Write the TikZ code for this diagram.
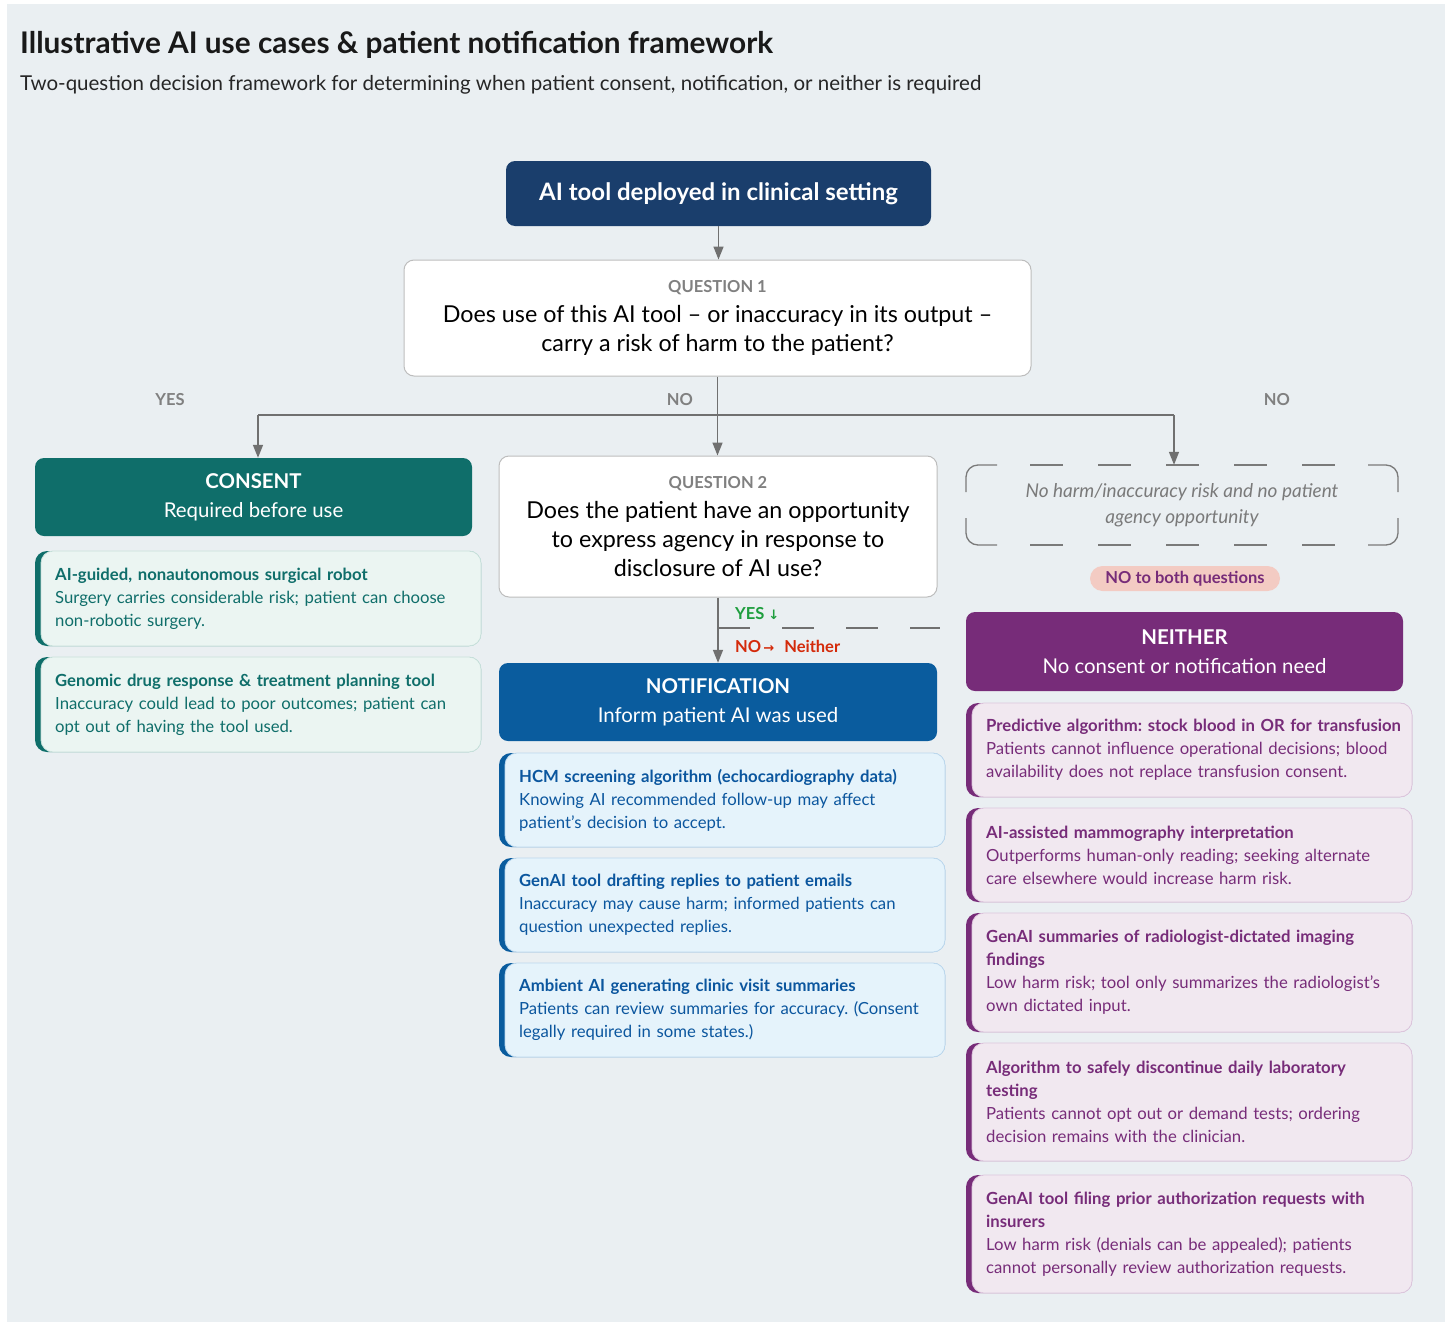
\documentclass[tikz,border=0pt]{standalone}
\usepackage{fontspec}
\setmainfont{Lato}
\newfontfamily\symfont{DejaVu Sans}
\usetikzlibrary{arrows.meta}
\frenchspacing
\definecolor{bgpanel}{HTML}{EAEFF2}
\definecolor{navy}{HTML}{1A3E6C}
\definecolor{conngrey}{HTML}{707070}
\definecolor{qborder}{HTML}{BDBDBD}
\definecolor{qlabel}{HTML}{808080}
\definecolor{tealA}{HTML}{0F6E6A}
\definecolor{tealF}{HTML}{EBF5F2}
\definecolor{tealB}{HTML}{C8E1DB}
\definecolor{tealT}{HTML}{0F6E6A}
\definecolor{blueA}{HTML}{0A5C9E}
\definecolor{blueF}{HTML}{E5F3FB}
\definecolor{blueB}{HTML}{BCD8EE}
\definecolor{blueT}{HTML}{0B569E}
\definecolor{purpA}{HTML}{772C79}
\definecolor{purpF}{HTML}{F1E8F0}
\definecolor{purpB}{HTML}{DDC6DD}
\definecolor{purpT}{HTML}{772C79}
\definecolor{pillfill}{HTML}{F3CBC3}
\definecolor{yesgreen}{HTML}{1E9E3E}
\definecolor{nored}{HTML}{D42A0A}
\definecolor{dashgrey}{HTML}{7A7A7A}
\tikzset{
  conn/.style={draw=conngrey, line width=1.5pt},
  arrowconn/.style={conn, -{Triangle[width=10pt,length=13pt]}},
  mainbox/.style={rounded corners=9pt, text=white, align=center,
    font=\fontsize{20.4}{29}\selectfont, inner sep=0pt},
  qbox/.style={rounded corners=10pt, fill=white, draw=qborder, line width=1pt,
    align=center, font=\fontsize{23.3}{29}\selectfont, inner sep=0pt},
  branchlabel/.style={text=qlabel, font=\fontsize{16.5}{19}\selectfont\bfseries, inner sep=0pt},
  cardtext/.style={anchor=west, align=left, inner sep=0pt,
    font=\fontsize{16.7}{23}\selectfont},
  dashedge/.style={draw=dashgrey, line width=1.3pt},
}
% name, x, y, w, h, scheme, content
\newcommand{\mkcard}[7]{%
  \fill[#6A, rounded corners=12pt] (#2,#3) rectangle ++(#4,#5);
  \filldraw[fill=#6F, draw=#6B, line width=0.8pt, rounded corners=12pt] (#2+6,#3) rectangle ++(#4-6,#5);
  \node[cardtext, text=#6T, text width=#4pt-24pt] (#1) at (#2+20,#3+#5/2) {#7};
}
\begin{document}
\begin{tikzpicture}[x=1pt,y=-1pt]
\useasboundingbox (0,0) rectangle (1449,1325);
\fill[white] (0,0) rectangle (1449,1325);
\fill[bgpanel] (7,4) rectangle (1445,1322);

% title
\node[anchor=west, inner sep=0pt, font=\fontsize{29.8}{34}\selectfont\bfseries, text=black!90] (title) at (20,45) {Illustrative AI use cases \& patient notification framework};
\node[anchor=west, inner sep=0pt, font=\fontsize{20.5}{24}\selectfont, text=black!85] (subtitle) at (20,85) {Two-question decision framework for determining when patient consent, notification, or neither is required};

% top node
\node[mainbox, fill=navy, minimum width=425pt, minimum height=65pt, font=\fontsize{24}{29}\selectfont\bfseries] (top) at (718.5,193.5) {AI tool deployed in clinical setting};

% Question 1
\node[qbox, minimum width=627pt, minimum height=116pt] (q1) at (717.5,318)
  {{\fontsize{16.5}{20}\selectfont\bfseries\color{qlabel}QUESTION 1}\\[1pt]
   Does use of this AI tool -- or inaccuracy in its output --\\
   carry a risk of harm to the patient?};

% Consent header
\node[mainbox, fill=tealA, minimum width=437pt, minimum height=78pt] (consent) at (253.5,497)
  {{\bfseries CONSENT}\\Required before use};

% Question 2
\node[qbox, minimum width=438pt, minimum height=141pt] (q2) at (718,526.5)
  {{\fontsize{16.5}{20}\selectfont\bfseries\color{qlabel}QUESTION 2}\\[1pt]
   Does the patient have an opportunity\\
   to express agency in response to\\
   disclosure of AI use?};

% Notification header
\node[mainbox, fill=blueA, minimum width=438pt, minimum height=78pt] (notif) at (718,702)
  {{\bfseries NOTIFICATION}\\Inform patient AI was used};

% dashed box (text node; outline drawn below)
\node[minimum width=432pt, minimum height=80pt, align=center, inner sep=0pt,
      text=dashgrey, font=\fontsize{19}{26}\selectfont\itshape] (nobox) at (1182,505)
  {No harm/inaccuracy risk and no patient\\agency opportunity};
% corners
\draw[dashedge, rounded corners=12pt] (966,492) -- (966,465) -- (997,465);
\draw[dashedge, rounded corners=12pt] (1368,465) -- (1398,465) -- (1398,492);
\draw[dashedge, rounded corners=12pt] (966,518) -- (966,545) -- (997,545);
\draw[dashedge, rounded corners=12pt] (1368,545) -- (1398,545) -- (1398,518);
% straight dashes
\draw[dashedge, dash pattern=on 33pt off 35pt] (1030,465) -- (1336,465);
\draw[dashedge, dash pattern=on 33pt off 35pt] (1030,545) -- (1336,545);

% pill
\node[rounded corners=12.5pt, fill=pillfill, minimum width=190pt, minimum height=25pt, inner sep=0pt,
      text=purpA, font=\fontsize{16.5}{19}\selectfont\bfseries] (pill) at (1185,578.5) {NO to both questions};

% Neither header
\node[mainbox, fill=purpA, minimum width=437pt, minimum height=79pt] (neither) at (1184.5,651.5)
  {{\bfseries NEITHER}\\No consent or notification need};

% connectors
\draw[arrowconn] (top.south) -- (top.south |- q1.north);
\draw[arrowconn] (q1.south) -- (q1.south |- q2.north);
\coordinate (split) at (716,415);
\draw[conn] ([xshift=4.5pt]consent.north |- split) -- ([xshift=-8pt]nobox.north |- split);
\draw[arrowconn] ([xshift=4.5pt]consent.north |- split) -- ([xshift=4.5pt]consent.north);
\draw[arrowconn] ([xshift=-8pt]nobox.north |- split) -- ([xshift=-8pt]nobox.north);
\draw[arrowconn] (q2.south) -- (notif.north);
\coordinate (dashend) at (940,628);
\draw[conn, dash pattern=on 32pt off 32pt] (q2.south |- dashend) -- (dashend);

% branch labels
\node[branchlabel] (yes1) at (170,400) {YES};
\node[branchlabel] (no1) at (680,400) {NO};
\node[branchlabel] (no2) at (1277,400) {NO};
\node[anchor=west, inner sep=0pt, text=yesgreen, font=\fontsize{16.5}{19}\selectfont\bfseries] (yes2) at (735,614) {YES {\symfont\fontsize{13}{16}\selectfont ↓}};
\node[anchor=west, inner sep=0pt, text=nored, font=\fontsize{16.5}{19}\selectfont\bfseries] (no3) at (735,646) {NO{\symfont\fontsize{13}{16}\selectfont\,→}\hspace{10pt}Neither};

% consent cards
\mkcard{c1}{35}{551}{446}{95}{teal}{\textbf{AI-guided, nonautonomous surgical robot}\\Surgery carries considerable risk; patient can choose\\non-robotic surgery.}
\mkcard{c2}{35}{657}{446}{95}{teal}{\textbf{Genomic drug response \& treatment planning tool}\\Inaccuracy could lead to poor outcomes; patient can\\opt out of having the tool used.}

% notification cards
\mkcard{n1}{499}{753}{446}{94}{blue}{\textbf{HCM screening algorithm (echocardiography data)}\\Knowing AI recommended follow-up may affect\\patient’s decision to accept.}
\mkcard{n2}{499}{858}{446}{94}{blue}{\textbf{GenAI tool drafting replies to patient emails}\\Inaccuracy may cause harm; informed patients can\\question unexpected replies.}
\mkcard{n3}{499}{963}{446}{94}{blue}{\textbf{Ambient AI generating clinic visit summaries}\\Patients can review summaries for accuracy. (Consent\\legally required in some states.)}

% neither cards
\mkcard{e1}{966}{703}{446}{94}{purp}{\textbf{Predictive algorithm: stock blood in OR for transfusion}\\Patients cannot influence operational decisions; blood\\availability does not replace transfusion consent.}
\mkcard{e2}{966}{808}{446}{94}{purp}{\textbf{AI-assisted mammography interpretation}\\Outperforms human-only reading; seeking alternate\\care elsewhere would increase harm risk.}
\mkcard{e3}{966}{913}{446}{119}{purp}{\textbf{GenAI summaries of radiologist-dictated imaging}\\\textbf{findings}\\Low harm risk; tool only summarizes the radiologist’s\\own dictated input.}
\mkcard{e4}{966}{1043}{446}{118}{purp}{\textbf{Algorithm to safely discontinue daily laboratory}\\\textbf{testing}\\Patients cannot opt out or demand tests; ordering\\decision remains with the clinician.}
\mkcard{e5}{966}{1175}{446}{118}{purp}{\textbf{GenAI tool filing prior authorization requests with}\\\textbf{insurers}\\Low harm risk (denials can be appealed); patients\\cannot personally review authorization requests.}
\end{tikzpicture}
\end{document}
